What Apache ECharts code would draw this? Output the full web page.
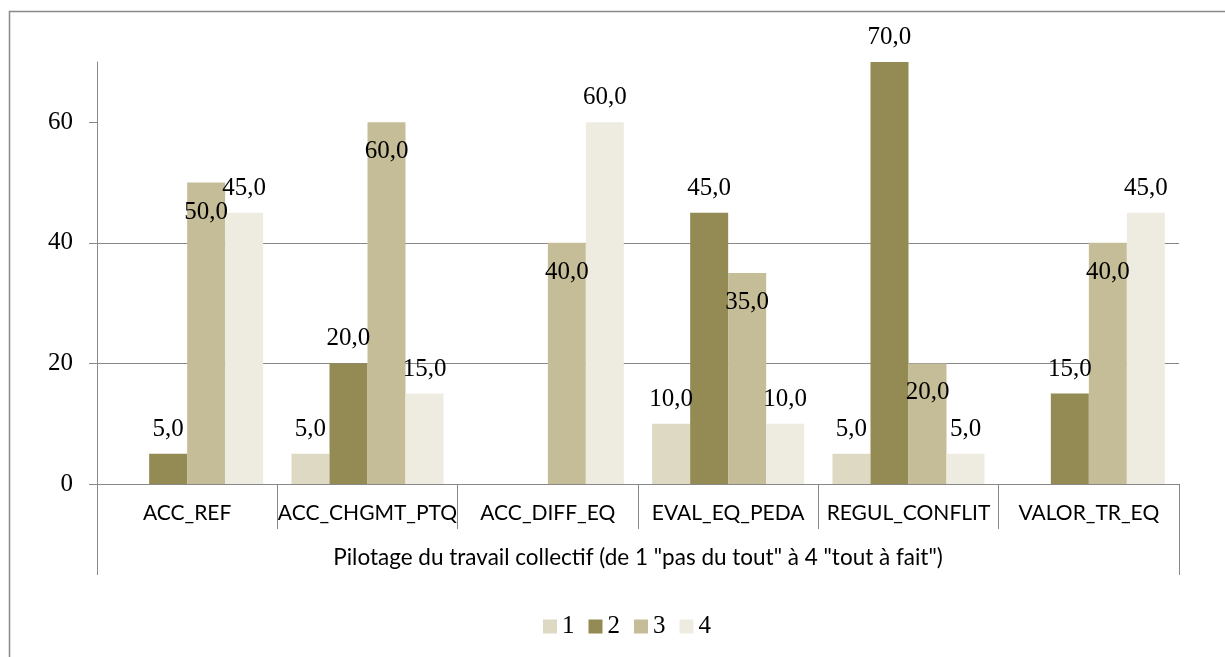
<!DOCTYPE html>
<html>
<head>
<meta charset="utf-8">
<title>Pilotage du travail collectif</title>
<script src="https://cdn.jsdelivr.net/npm/echarts@6/dist/echarts.min.js"></script>
<style>
  html, body { margin: 0; padding: 0; background: #fff; }
  #chart { width: 1225px; height: 657px; }
</style>
</head>
<body>
<div id="chart"></div>
<script>
// catégories et séries (pourcentages)
const categories = ['ACC_REF', 'ACC_CHGMT_PTQ', 'ACC_DIFF_EQ', 'EVAL_EQ_PEDA', 'REGUL_CONFLIT', 'VALOR_TR_EQ']
const seriesNames = ['1', '2', '3', '4']
const values1 = [0, 5, 0, 10, 5, 0]
const values2 = [5, 20, 0, 45, 70, 15]
const values3 = [50, 60, 40, 35, 20, 40]
const values4 = [45, 15, 60, 10, 5, 45]
const yTicks = [0, 20, 40, 60]
const axisTitle = 'Pilotage du travail collectif (de 1 "pas du tout" à 4 "tout à fait")'

const colors = ['#DDD9C3', '#948A54', '#C4BD97', '#EEECE1']
const gray = '#898989'
const serif = '"Liberation Serif", "DejaVu Serif", serif'
const sans = 'Lato, "Liberation Sans", sans-serif'

const myChart = echarts.init(document.getElementById('chart'))

function makeSeries(name, data, color, inside) {
  return {
    name: name,
    type: 'bar',
    data: data,
    barGap: '0%',
    barCategoryGap: '15.7%',
    itemStyle: { color: color },
    label: {
      show: true,
      position: inside ? 'insideTop' : 'top',
      distance: inside ? 17 : 12,
      fontFamily: serif,
      fontSize: 25,
      color: '#000',
      formatter: p => (p.value === 0 ? '' : p.value.toFixed(1).replace('.', ','))
    }
  }
}

const option = {
  animation: false,
  grid: { left: 97, right: 46, top: 62, bottom: 173 },
  legend: {
    data: seriesNames,
    left: 543,
    top: 614,
    padding: 0,
    itemWidth: 14,
    itemHeight: 14,
    itemGap: 14,
    icon: 'rect',
    textStyle: { fontFamily: serif, fontSize: 25, color: '#000' }
  },
  xAxis: [
    {
      type: 'category',
      data: categories,
      axisLine: { lineStyle: { color: gray, width: 1 } },
      axisTick: { show: true, interval: 0, length: 45, lineStyle: { color: gray } },
      axisLabel: { interval: 0, margin: 19, fontFamily: sans, fontSize: 21, color: '#000' }
    },
    {
      // second niveau de l'axe : titre commun
      type: 'category',
      position: 'bottom',
      data: [axisTitle],
      axisLine: { show: false },
      axisTick: { show: true, length: 91, lineStyle: { color: gray } },
      axisLabel: { margin: 62, fontFamily: sans, fontSize: 22.5, color: '#000' }
    }
  ],
  yAxis: {
    type: 'value',
    min: 0,
    max: 70,
    axisLine: { show: true, lineStyle: { color: gray } },
    axisTick: { show: true, length: 8, customValues: yTicks, lineStyle: { color: gray } },
    axisLabel: { margin: 24, customValues: yTicks, fontFamily: serif, fontSize: 25, color: '#000' },
    splitLine: { show: true, showMaxLine: false, lineStyle: { color: gray, width: 1 } }
  },
  graphic: [
    {
      type: 'rect',
      shape: { x: 9.5, y: 11.5, width: 1400, height: 800 },
      style: { fill: 'none', stroke: gray, lineWidth: 1.5 },
      silent: true
    }
  ],
  series: [
    makeSeries(seriesNames[0], values1, colors[0], false),
    makeSeries(seriesNames[1], values2, colors[1], false),
    makeSeries(seriesNames[2], values3, colors[2], true),
    makeSeries(seriesNames[3], values4, colors[3], false)
  ]
}

myChart.setOption(option)
</script>
</body>
</html>
